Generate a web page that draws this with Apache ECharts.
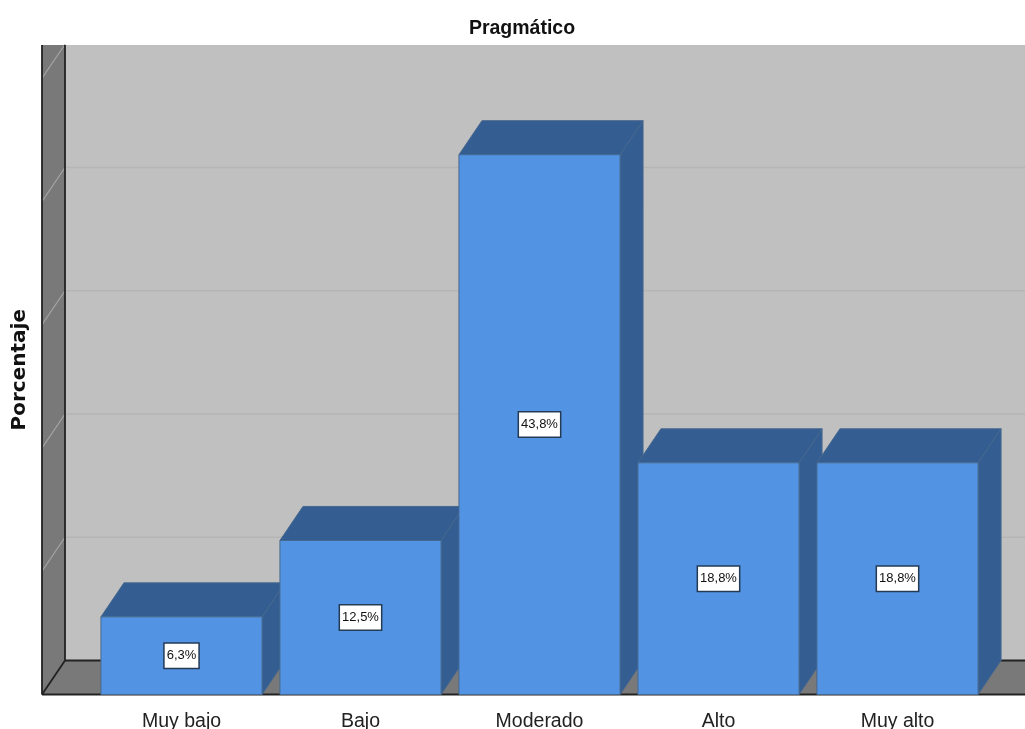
<!DOCTYPE html>
<html>
<head>
<meta charset="utf-8">
<style>html,body{margin:0;padding:0;background:#fff;overflow:hidden}#c{width:1025px;height:729px}</style>
<script src="https://cdn.jsdelivr.net/npm/echarts@6/dist/echarts.min.js"></script>
</head>
<body>
<div id="c"></div>
<script>
const chartTitle = 'Pragmático';
const axisName = 'Porcentaje';
const categories = ['Muy bajo', 'Bajo', 'Moderado', 'Alto', 'Muy alto'];
const percentages = [6.3, 12.5, 43.8, 18.8, 18.8];
const gridTicks = [10, 20, 30, 40, 50];

const DX = 23, DY = 34;
const WALL_LEFT = 42, WALL_RIGHT = 1025, WALL_TOP = 45;
const FRONT = '#5294e3', DARK = '#345d91', EDGE = '#46688f';

function renderWalls(params, api) {
  const b = api.coord([0, 0])[1];
  const backB = b - DY, backL = WALL_LEFT + DX;
  const children = [
    {type:'rect', shape:{x:backL, y:WALL_TOP, width:WALL_RIGHT-backL, height:backB-WALL_TOP}, style:{fill:'#c0c0c0'}},
    {type:'polygon', shape:{points:[[WALL_LEFT,WALL_TOP],[backL,WALL_TOP],[backL,backB],[WALL_LEFT,b]]}, style:{fill:'#797979'}},
    {type:'polygon', shape:{points:[[WALL_LEFT,b],[backL,backB],[WALL_RIGHT,backB],[WALL_RIGHT,b]]}, style:{fill:'#797979'}}
  ];
  gridTicks.forEach(t => {
    const y = api.coord([0, t])[1] - DY;
    if (t < 50) children.push({type:'line', shape:{x1:backL, y1:y, x2:WALL_RIGHT, y2:y}, style:{stroke:'#b5b5b5', lineWidth:1.6}});
    children.push({type:'line', shape:{x1:WALL_LEFT, y1:y+DY, x2:backL, y2:y}, style:{stroke:'#a6a6a6', lineWidth:1.2}});
  });
  const dark = '#222';
  [[WALL_LEFT,WALL_TOP,WALL_LEFT,b],[backL,WALL_TOP,backL,backB],[backL,backB,WALL_RIGHT,backB],
   [WALL_LEFT,b,WALL_RIGHT,b],[WALL_LEFT,b,backL,backB]].forEach(l => {
    children.push({type:'line', shape:{x1:l[0],y1:l[1],x2:l[2],y2:l[3]}, style:{stroke:dark, lineWidth:1.8}});
  });
  return {type:'group', children};
}

function renderBar(params, api) {
  const i = api.value(0), v = api.value(1);
  const c = api.coord([i, v]), z = api.coord([i, 0]);
  const w = api.size([1, 0])[0] * 0.9;
  const x0 = c[0] - w / 2, x1 = c[0] + w / 2, yT = c[1], yB = z[1];
  const edge = {stroke: EDGE, lineWidth: 1};
  return {type:'group', children:[
    {type:'polygon', shape:{points:[[x1,yT],[x1+DX,yT-DY],[x1+DX,yB-DY],[x1,yB]]}, style:{fill:DARK, ...edge}},
    {type:'polygon', shape:{points:[[x0,yT],[x0+DX,yT-DY],[x1+DX,yT-DY],[x1,yT]]}, style:{fill:DARK, ...edge}},
    {type:'rect', shape:{x:x0, y:yT, width:w, height:yB-yT}, style:{fill:FRONT, ...edge}},
    {type:'text', x:c[0], y:(yT+yB)/2, style:{
      text:v.toFixed(1).replace('.', ',') + '%', align:'center', verticalAlign:'middle',
      font:'13px "Liberation Sans", Arial, sans-serif', fill:'#111',
      backgroundColor:'#fff', borderColor:'#243a55', borderWidth:1.5, padding:[6,2,5,2]
    }}
  ]};
}

const chart = echarts.init(document.getElementById('c'), null, {renderer:'canvas'});
chart.setOption({
  animation:false,
  backgroundColor:'#fff',
  title:{text:chartTitle, left:517, top:14, textAlign:'center',
    textStyle:{fontFamily:'Liberation Sans', fontSize:19.5, fontWeight:'bold', color:'#111'}},
  grid:{left:92, right:38, top:45, bottom:34.5, containLabel:false, outerBoundsMode:'none'},
  xAxis:{type:'category', data:categories,
    axisLine:{show:false}, axisTick:{show:false}, splitLine:{show:false},
    axisLabel:{margin:17, fontFamily:'Liberation Sans', fontSize:19.5, color:'#222', interval:0}},
  yAxis:{type:'value', min:0, max:52.7, interval:10,
    name:axisName, nameLocation:'middle', nameGap:62, nameRotate:90,
    nameTextStyle:{fontFamily:'DejaVu Sans', fontSize:20, fontWeight:'bold', color:'#111'},
    axisLine:{show:false}, axisTick:{show:false}, axisLabel:{show:false}, splitLine:{show:false}},
  series:[
    {type:'custom', name:'walls', renderItem:renderWalls, data:[[0,0]], clip:false, silent:true, z:1,
     encode:{x:0,y:1}},
    {type:'custom', name:axisName, renderItem:renderBar, clip:false, z:2,
     data:percentages.map((v,i)=>[i,v]), encode:{x:0,y:1}}
  ]
});
</script>
</body>
</html>
